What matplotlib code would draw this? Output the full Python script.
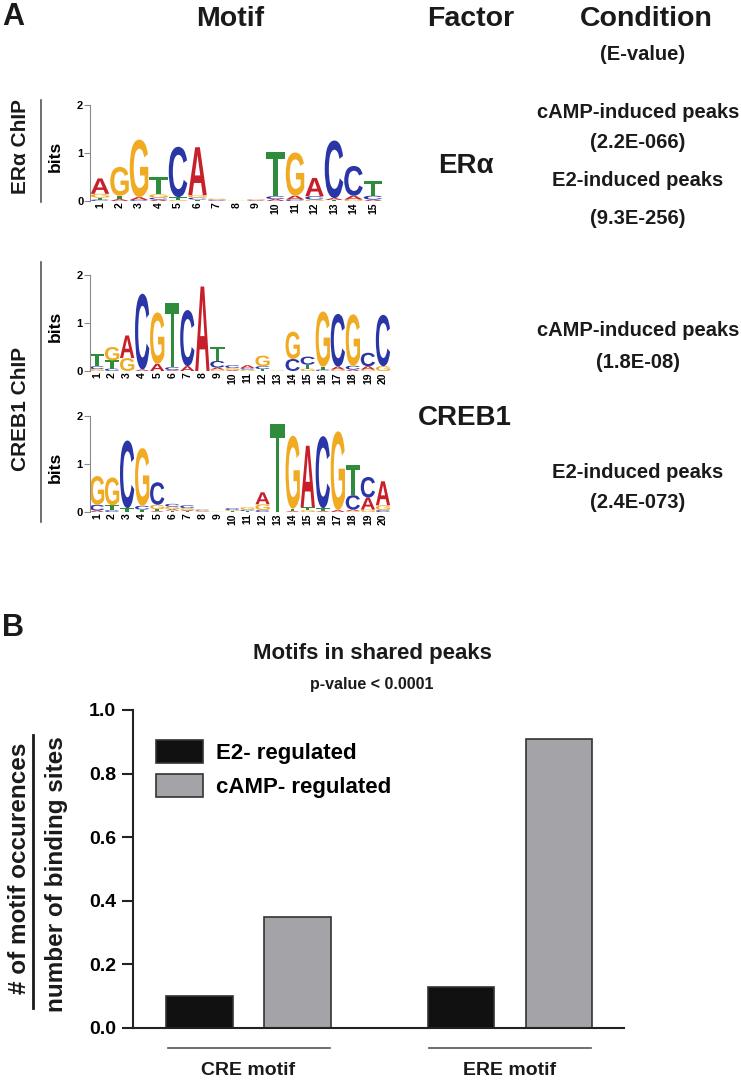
import matplotlib
matplotlib.use('Agg')
import matplotlib.pyplot as plt
import numpy as np
from matplotlib.font_manager import FontProperties
from matplotlib.textpath import TextPath
from matplotlib.patches import PathPatch
from matplotlib.transforms import Affine2D, blended_transform_factory

W, H = 741, 1080
SANS = 'Liberation Sans'

# ---- motif logos: per position, (letter, bits) stacked from the bottom ----
era_logo = [
    [('C', 0.03), ('T', 0.04), ('G', 0.08), ('A', 0.32)],
    [('A', 0.04), ('T', 0.07), ('G', 0.60)],
    [('C', 0.02), ('A', 0.06), ('G', 1.20)],
    [('A', 0.03), ('C', 0.04), ('G', 0.07), ('T', 0.36)],
    [('G', 0.02), ('T', 0.06), ('C', 1.05)],
    [('T', 0.03), ('C', 0.04), ('G', 0.05), ('A', 1.00)],
    [('A', 0.01), ('C', 0.02), ('G', 0.02)],
    [('G', 0.005)],
    [('A', 0.01), ('C', 0.01), ('G', 0.02)],
    [('A', 0.04), ('C', 0.06), ('T', 0.93)],
    [('C', 0.03), ('A', 0.08), ('G', 0.90)],
    [('G', 0.03), ('C', 0.07), ('A', 0.38)],
    [('T', 0.02), ('A', 0.04), ('C', 1.20)],
    [('G', 0.03), ('A', 0.08), ('C', 0.62)],
    [('A', 0.03), ('C', 0.08), ('T', 0.30)],
]

creb_camp_logo = [
    [('G', 0.04), ('C', 0.06), ('T', 0.25)],
    [('C', 0.05), ('T', 0.17), ('G', 0.28)],
    [('G', 0.27), ('A', 0.47)],
    [('A', 0.03), ('C', 1.58)],
    [('A', 0.15), ('G', 1.07)],
    [('A', 0.02), ('C', 0.06), ('T', 1.33)],
    [('A', 0.10), ('C', 1.17)],
    [('A', 1.76)],
    [('G', 0.03), ('A', 0.04), ('C', 0.14), ('T', 0.30)],
    [('A', 0.02), ('G', 0.04), ('C', 0.06)],
    [('G', 0.03), ('C', 0.03), ('A', 0.06)],
    [('T', 0.04), ('C', 0.06), ('G', 0.22)],
    [('G', 0.01)],
    [('C', 0.25), ('G', 0.57)],
    [('G', 0.05), ('T', 0.08), ('C', 0.17)],
    [('C', 0.03), ('T', 0.06), ('G', 1.15)],
    [('G', 0.03), ('A', 0.06), ('C', 1.10)],
    [('A', 0.03), ('C', 0.08), ('G', 1.07)],
    [('G', 0.03), ('A', 0.07), ('C', 0.28)],
    [('G', 0.10), ('C', 1.07)],
]

creb_e2_logo = [
    [('A', 0.03), ('C', 0.12), ('G', 0.60)],
    [('C', 0.04), ('T', 0.10), ('G', 0.58)],
    [('T', 0.08), ('C', 1.41)],
    [('T', 0.05), ('C', 0.08), ('G', 1.20)],
    [('A', 0.02), ('T', 0.04), ('G', 0.09), ('C', 0.47)],
    [('T', 0.03), ('A', 0.03), ('G', 0.05), ('C', 0.06)],
    [('T', 0.02), ('A', 0.02), ('G', 0.04), ('C', 0.06)],
    [('A', 0.01), ('G', 0.02), ('C', 0.02)],
    [('G', 0.005)],
    [('T', 0.02), ('G', 0.02), ('C', 0.04)],
    [('T', 0.02), ('C', 0.03), ('G', 0.05)],
    [('C', 0.04), ('G', 0.12), ('A', 0.25)],
    [('T', 1.84)],
    [('A', 0.02), ('T', 0.05), ('G', 1.52)],
    [('G', 0.04), ('T', 0.06), ('A', 1.28)],
    [('A', 0.02), ('T', 0.06), ('C', 1.50)],
    [('A', 0.04), ('G', 1.64)],
    [('G', 0.02), ('A', 0.03), ('C', 0.30), ('T', 0.62)],
    [('G', 0.05), ('A', 0.25), ('C', 0.43)],
    [('C', 0.04), ('G', 0.10), ('A', 0.50)],
]

# ---- panel B ----
motifs = ['CRE motif', 'ERE motif']
e2_vals = [0.10, 0.13]
camp_vals = [0.35, 0.91]

LETTER_COLORS = {'A': '#c8202a', 'C': '#2a36a6', 'G': '#f0ab22', 'T': '#2e8c3c'}
LOGO_FONT = FontProperties(family=SANS, weight='bold')

fig = plt.figure(figsize=(W / 100, H / 100), dpi=100)


def px_axes(l, t, r, b, **kw):
    return fig.add_axes([l / W, 1 - b / H, (r - l) / W, (b - t) / H], **kw)


ax0 = px_axes(0, 0, W, H)
ax0.set_xlim(0, W)
ax0.set_ylim(H, 0)
ax0.axis('off')


def draw_letter(ax, ch, xc, y0, h, wd=0.95):
    tp = TextPath((0, 0), ch, size=1, prop=LOGO_FONT)
    bb = tp.get_extents()
    tr = Affine2D().translate(-bb.x0, -bb.y0).scale(wd / bb.width, h / bb.height).translate(xc - wd / 2, y0)
    ax.add_patch(PathPatch(tr.transform_path(tp), facecolor=LETTER_COLORS[ch], edgecolor='none'))


def draw_logo(box, columns):
    ax = px_axes(*box)
    n = len(columns)
    for i, col in enumerate(columns, start=1):
        base = 0
        for ch, h in col:
            draw_letter(ax, ch, i, base, h)
            base += h
    ax.set_xlim(0.5, n + 0.5)
    ax.set_ylim(0, 2)
    for s in ['top', 'right', 'bottom']:
        ax.spines[s].set_visible(False)
    ax.spines['left'].set_color('#8a8a8a')
    ax.spines['left'].set_linewidth(0.8)
    ax.set_yticks([0, 1, 2])
    ax.set_yticklabels(['0', '1', '2'], fontsize=8, fontweight='bold', family=SANS)
    ax.tick_params(axis='y', length=4, width=0.8, color='#8a8a8a', pad=1)
    ax.set_xticks(range(1, n + 1))
    ax.set_xticklabels([str(i) for i in range(1, n + 1)], rotation=90, fontsize=7.5,
                       fontweight='bold', family=SANS)
    ax.tick_params(axis='x', length=0, pad=1)
    ax.set_ylabel('bits', fontsize=12.5, fontweight='bold', family=SANS)
    ax.yaxis.set_label_coords(-27 / (box[2] - box[0]), 0.47)
    ax.patch.set_alpha(0)
    return ax


draw_logo((90.25, 105, 382.75, 201), era_logo)
draw_logo((89.5, 275, 390.5, 371), creb_camp_logo)
draw_logo((89.5, 416, 390.5, 512), creb_e2_logo)

# ---- panel A text ----
txt = dict(color='#1a1a1a', va='center')
ax0.text(2, 17, 'A', fontsize=22, fontweight='bold', family=SANS, ha='left', **txt)
for label, xc in [('Motif', 230), ('Factor', 471), ('Condition', 646)]:
    ax0.text(xc, 19, label, fontsize=20.5, fontweight='bold', family=SANS, ha='center', **txt)
ax0.text(643, 55, '(E-value)', fontsize=14.5, fontweight='bold', family=SANS, ha='center', **txt)

ax0.plot([41, 41], [100, 202], color='#555555', lw=1.2)
ax0.plot([41, 41], [262, 522], color='#555555', lw=1.2)
ax0.text(21, 146, 'ERα ChIP', rotation=90, fontsize=15, fontweight='bold', family=SANS, ha='center', **txt)
ax0.text(21, 409, 'CREB1 ChIP', rotation=90, fontsize=15, fontweight='bold', family=SANS, ha='center', **txt)

ax0.text(466, 166, 'ERα', fontsize=20, fontweight='bold', family=SANS, ha='center', **txt)
ax0.text(465, 418, 'CREB1', fontsize=20, fontweight='bold', family=SANS, ha='center', **txt)

conditions = [
    ('cAMP-induced peaks', 113), ('(2.2E-066)', 142),
    ('E2-induced peaks', 180), ('(9.3E-256)', 218),
    ('cAMP-induced peaks', 330), ('(1.8E-08)', 363),
    ('E2-induced peaks', 472), ('(2.4E-073)', 503),
]
for label, yc in conditions:
    ax0.text(638, yc, label, fontsize=14.5, fontweight='bold', family=SANS, ha='center', **txt)

# ---- panel B ----
ax0.text(2, 628, 'B', fontsize=22, fontweight='bold', family=SANS, ha='left', **txt)
ax0.text(372, 654, 'Motifs in shared peaks', fontsize=16, fontweight='bold', family=SANS, ha='center', **txt)
ax0.text(372, 684, 'p-value < 0.0001', fontsize=11.5, fontweight='bold', family=SANS, ha='center', **txt)

axb = px_axes(133, 710, 624, 1028)
x = np.arange(len(motifs))
off, bw = 0.1875, 0.256
axb.bar(x - off, e2_vals, bw, color='#111111', edgecolor='#333333', lw=1.2, label='E2- regulated')
axb.bar(x + off, camp_vals, bw, color='#a4a4a8', edgecolor='#333333', lw=1.2, label='cAMP- regulated')
axb.set_xlim(-0.442, 1.436)
axb.set_ylim(0, 1.0)
axb.spines['top'].set_visible(False)
axb.spines['right'].set_visible(False)
for s in ['left', 'bottom']:
    axb.spines[s].set_linewidth(1.5)
    axb.spines[s].set_color('#222222')
axb.set_yticks(np.arange(0, 1.01, 0.2))
axb.set_yticklabels([f'{v:.1f}' for v in np.arange(0, 1.01, 0.2)], fontsize=14,
                    fontweight='bold', family=SANS)
axb.tick_params(axis='y', length=8, width=1.5, color='#222222', pad=4)
axb.set_xticks([])
axb.patch.set_alpha(0)

tr = blended_transform_factory(axb.transData, axb.transAxes)
for xi, name in zip(x, motifs):
    axb.plot([xi - 0.31, xi + 0.31], [-0.063, -0.063], color='#555555', lw=1.2,
             transform=tr, clip_on=False)
    axb.text(xi, -0.135, name, transform=tr, ha='center', va='center', fontsize=14,
             fontweight='bold', family=SANS, color='#1a1a1a')

axb.legend(loc='upper left', bbox_to_anchor=(0.047, 0.905), frameon=False,
           prop=FontProperties(family=SANS, weight='bold', size=16),
           handlelength=2.1, handleheight=1.2, labelspacing=0.45, handletextpad=0.6,
           borderaxespad=0, borderpad=0)

ax0.text(20, 868, '# of motif occurences', rotation=90, fontsize=17.5, fontweight='bold',
         family=SANS, ha='center', **txt)
ax0.text(57, 874, 'number of binding sites', rotation=90, fontsize=17.5, fontweight='bold',
         family=SANS, ha='center', **txt)
ax0.plot([33, 33], [735, 1008], color='#1a1a1a', lw=2)

fig.savefig('out.png', dpi=100)
